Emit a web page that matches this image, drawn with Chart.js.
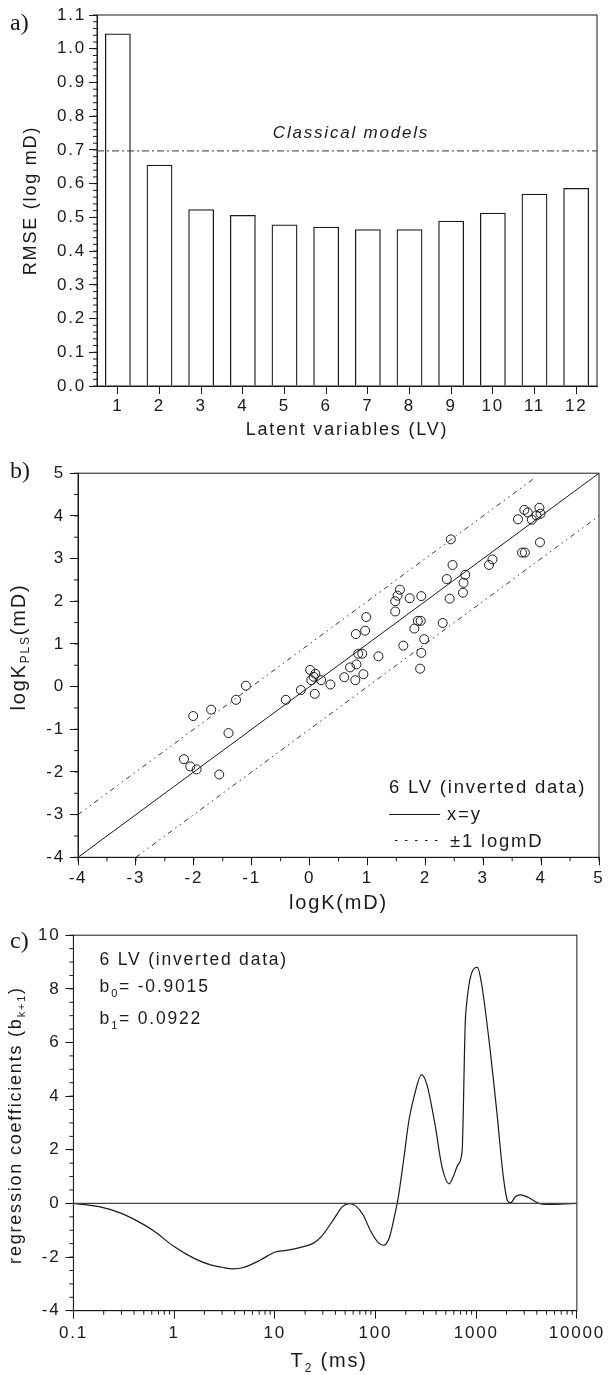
<!DOCTYPE html>
<html>
<head>
<meta charset="utf-8">
<title>PLS permeability model</title>
<script src="https://cdn.jsdelivr.net/npm/chart.js@4.4.0/dist/chart.umd.min.js"></script>
<style>
  body { margin: 0; background: #fff; }
  canvas { position: absolute; left: 0; }
</style>
</head>
<body>
<canvas id="chartA" width="609" height="460" style="top:0"></canvas>
<canvas id="chartB" width="609" height="462" style="top:458px"></canvas>
<canvas id="chartC" width="609" height="455" style="top:920px"></canvas>
<script>
// a) RMSE against number of latent variables
const lvLabels = ['1', '2', '3', '4', '5', '6', '7', '8', '9', '10', '11', '12'];
const rmseValues = [1.045, 0.656, 0.524, 0.507, 0.479, 0.472, 0.465, 0.465, 0.490, 0.514, 0.570, 0.587];
const classicalRmse = 0.697;

// b) measured vs predicted logK (6 LV)
const measuredLogK = [-2.17, -2.06, -1.95, -2.01, -1.70, -1.56, -1.40, -1.27, -1.10, -0.41,
  -0.15, 0.01, 0.03, 0.10, 0.07, 0.09, 0.20, 0.36, 0.60, 0.70,
  0.79, 0.81, 0.80, 0.84, 0.91, 0.93, 0.96, 0.98, 1.19, 1.48,
  1.48, 1.52, 1.56, 1.73, 1.62, 1.81, 1.87, 1.92, 1.93, 1.93,
  1.91, 1.98, 2.30, 2.37, 2.42, 2.47, 2.44, 2.65, 2.66, 2.69,
  3.10, 3.16, 3.60, 3.71, 3.67, 3.72, 3.77, 3.84, 3.92, 3.97, 3.98, 3.99];
const predictedLogK = [-1.70, -1.87, -1.94, -0.69, -0.54, -2.06, -1.09, -0.31, 0.02, -0.31,
  -0.08, 0.39, 0.15, 0.30, 0.23, -0.17, 0.15, 0.05, 0.22, 0.45,
  0.15, 0.52, 1.23, 0.77, 0.77, 0.29, 1.31, 1.63, 0.71, 1.76,
  2.00, 2.13, 2.27, 2.07, 0.96, 1.36, 1.54, 1.54, 2.12, 0.79,
  0.42, 1.11, 1.49, 2.52, 2.06, 2.85, 3.45, 2.20, 2.43, 2.62,
  2.85, 2.98, 3.92, 4.14, 3.14, 3.14, 4.08, 3.91, 4.01, 4.19, 3.38, 4.05];
const identityLine = [[-4, -4], [5, 5]];
const upperBound = [[-4, -3], [3.9, 4.9]];
const lowerBound = [[-3, -4], [5, 4]];

// c) regression coefficients over the T2 distribution
const t2Values = [0.1, 0.18, 0.30, 0.51, 0.64, 1.0, 1.58, 2.3, 3.0, 3.8,
  4.9, 7.2, 10.1, 13, 18, 24, 29, 38, 47, 55,
  64, 76, 90, 106, 120, 138, 155, 168, 190, 215,
  241, 287, 326, 362, 394, 458, 540, 600, 660, 725, 785,
  1030, 1130, 1320, 1600, 1860, 2050, 2200, 2450, 2750,
  3300, 4200, 5000, 7000, 10000];
const coefValues = [0, -0.12, -0.37, -0.81, -1.05, -1.61, -2.05, -2.29, -2.38, -2.44,
  -2.39, -2.11, -1.81, -1.75, -1.64, -1.49, -1.24, -0.62, -0.12, -0.01,
  -0.10, -0.45, -1.05, -1.45, -1.56, -1.25, -0.45, 0.20, 1.60, 3.10,
  3.96, 4.80, 4.40, 3.60, 2.85, 1.36, 0.73, 1.05, 1.45, 1.95, 7.00,
  8.80, 8.20, 6.30, 3.45, 1.00, 0.10, 0.02, 0.25, 0.32,
  0.22, 0.0, -0.04, -0.03, 0];
const t2TickValues = [0.1, 1, 10, 100, 1000, 10000];

const SANS = '"Liberation Sans", Arial, sans-serif';
const SERIF = '"Liberation Serif", "Times New Roman", serif';
const INK = '#1a1a1a';
const SPACING = '1.8px';
Chart.defaults.font.family = SANS;
Chart.defaults.color = INK;

// loose letter spacing for every label, set before measuring and drawing
Chart.register({
  id: 'spacing',
  beforeUpdate(chart) { chart.ctx.letterSpacing = SPACING; },
  beforeDraw(chart) { chart.ctx.letterSpacing = SPACING; }
});

// box round the plot area plus the short minor ticks
const frame = {
  id: 'frame',
  afterDraw(chart, args, opts) {
    const ctx = chart.ctx, a = chart.chartArea;
    const xs = chart.scales.x, ys = chart.scales.y;
    ctx.save();
    ctx.strokeStyle = INK;
    ctx.lineWidth = 1;
    ctx.strokeRect(a.left, a.top, a.right - a.left, a.bottom - a.top);
    ctx.beginPath();
    if (opts.minorY) {
      const n = Math.round((ys.max - ys.min) / opts.minorY);
      for (let i = 0; i <= n; i++) {
        const p = ys.getPixelForValue(ys.min + i * opts.minorY);
        ctx.moveTo(a.left - 4, p); ctx.lineTo(a.left, p);
      }
    }
    if (opts.minorX) {
      const n = Math.round((xs.max - xs.min) / opts.minorX);
      for (let i = 0; i <= n; i++) {
        const p = xs.getPixelForValue(xs.min + i * opts.minorX);
        ctx.moveTo(p, a.bottom); ctx.lineTo(p, a.bottom + 4);
      }
    }
    if (opts.logMinorX) {
      for (let d = xs.min; d < xs.max; d *= 10) {
        for (let k = 2; k <= 9; k++) {
          const p = xs.getPixelForValue(d * k);
          ctx.moveTo(p, a.bottom); ctx.lineTo(p, a.bottom + 4);
        }
      }
    }
    ctx.stroke();
    ctx.restore();
  }
};

// text with subscripts: parts are [text, size, dy]
function richText(ctx, parts, x, y, align) {
  let w = 0;
  parts.forEach(p => { ctx.font = p[1] + 'px ' + SANS; w += ctx.measureText(p[0]).width; });
  let cx = align === 'center' ? x - w / 2 : x;
  parts.forEach(p => {
    ctx.font = p[1] + 'px ' + SANS;
    ctx.fillText(p[0], cx, y + (p[2] || 0));
    cx += ctx.measureText(p[0]).width;
  });
}

function panelLetter(ctx, txt, y) {
  ctx.save();
  ctx.letterSpacing = '0px';
  ctx.font = '24px ' + SERIF;
  ctx.textAlign = 'left';
  ctx.fillText(txt, 10, y);
  ctx.restore();
}

function axisStyle(size, pad) {
  return {
    grid: { drawOnChartArea: false, tickLength: 8, color: INK, lineWidth: 1 },
    border: { color: INK, width: 1 },
    ticks: { font: { size: size }, padding: pad, color: INK }
  };
}

// ---------- a) ----------
const textA = {
  id: 'textA',
  afterDraw(chart) {
    const ctx = chart.ctx, a = chart.chartArea, ys = chart.scales.y;
    ctx.save();
    ctx.fillStyle = INK;
    panelLetter(ctx, 'a)', 30);
    // classical models reference line
    const py = ys.getPixelForValue(classicalRmse);
    ctx.strokeStyle = '#333';
    ctx.lineWidth = 1;
    ctx.setLineDash([7, 3, 2, 3]);
    ctx.beginPath(); ctx.moveTo(a.left, py); ctx.lineTo(a.right, py); ctx.stroke();
    ctx.setLineDash([]);
    ctx.font = 'italic 17px ' + SANS;
    ctx.textAlign = 'center';
    ctx.fillText('Classical models', 351, 138);
    ctx.restore();
  }
};

const ax = axisStyle(17, 2);
ax.grid.offset = false;
ax.ticks.autoSkip = false;
ax.title = { display: true, text: 'Latent variables (LV)', font: { size: 18 }, color: INK, padding: { top: 0, bottom: 19 } };
ax.afterFit = s => { s.height = 74; };
const ay = axisStyle(17, 3);
ay.min = 0; ay.max = 1.1;
ay.ticks.stepSize = 0.1;
ay.ticks.callback = v => v.toFixed(1);
ay.title = { display: true, text: 'RMSE (log mD)', font: { size: 18 }, color: INK, padding: { top: 20, bottom: 0 } };
ay.afterFit = s => { s.width = 97; };

new Chart(document.getElementById('chartA'), {
  type: 'bar',
  data: {
    labels: lvLabels,
    datasets: [{
      data: rmseValues,
      backgroundColor: 'rgba(255,255,255,0)',
      borderColor: INK,
      borderWidth: 1.3,
      barPercentage: 0.62,
      categoryPercentage: 1
    }]
  },
  options: {
    responsive: false,
    animation: false,
    layout: { padding: { top: 15, right: 12, left: 0, bottom: 0 } },
    plugins: { legend: { display: false }, tooltip: { enabled: false }, frame: { minorY: 0.02 } },
    scales: { x: ax, y: ay }
  },
  plugins: [frame, textA]
});

// ---------- b) ----------
const textB = {
  id: 'textB',
  afterDraw(chart) {
    const ctx = chart.ctx;
    ctx.save();
    ctx.fillStyle = INK;
    ctx.strokeStyle = INK;
    panelLetter(ctx, 'b)', 20);
    // y title with subscript
    ctx.save();
    ctx.translate(19.5, 189);
    ctx.rotate(-Math.PI / 2);
    ctx.textBaseline = 'middle';
    richText(ctx, [['logK', 20, 0], ['PLS', 12, 6], ['(mD)', 20, 0]], 0, 0, 'center');
    ctx.restore();
    // legend
    ctx.textAlign = 'left';
    ctx.font = '18.5px ' + SANS;
    ctx.fillText('6 LV (inverted data)', 389, 334.5);
    ctx.lineWidth = 1;
    ctx.beginPath(); ctx.moveTo(389, 356.5); ctx.lineTo(440, 356.5); ctx.stroke();
    ctx.fillText('x=y', 447, 362);
    ctx.setLineDash([2.5, 7.5]);
    ctx.beginPath(); ctx.moveTo(395, 382.5); ctx.lineTo(440, 382.5); ctx.stroke();
    ctx.setLineDash([]);
    ctx.fillText('\u00b11 logmD', 450, 389);
    ctx.restore();
  }
};

const toPoints = pairs => pairs.map(p => ({ x: p[0], y: p[1] }));
const boundDash = [5, 4, 1.5, 4, 1.5, 4];

const bx = axisStyle(17, 3);
bx.type = 'linear'; bx.min = -4; bx.max = 5;
bx.ticks.stepSize = 1;
bx.title = { display: true, text: 'logK(mD)', font: { size: 20 }, color: INK, padding: { top: 0, bottom: 5 } };
bx.afterFit = s => { s.height = 62.7; };
const by = axisStyle(17, 5);
by.min = -4; by.max = 5;
by.ticks.stepSize = 1;
by.afterFit = s => { s.width = 78; };

new Chart(document.getElementById('chartB'), {
  type: 'scatter',
  data: {
    datasets: [
      {
        data: measuredLogK.map((v, i) => ({ x: v, y: predictedLogK[i] })),
        pointStyle: 'circle',
        pointRadius: 4.5,
        pointBorderWidth: 1,
        pointBorderColor: INK,
        pointBackgroundColor: 'rgba(255,255,255,0)'
      },
      { data: toPoints(identityLine), showLine: true, pointRadius: 0, borderColor: INK, borderWidth: 1 },
      { data: toPoints(upperBound), showLine: true, pointRadius: 0, borderColor: '#333', borderWidth: 1, borderDash: boundDash },
      { data: toPoints(lowerBound), showLine: true, pointRadius: 0, borderColor: '#333', borderWidth: 1, borderDash: boundDash }
    ]
  },
  options: {
    responsive: false,
    animation: false,
    layout: { padding: { top: 8, right: 10, left: 0, bottom: 0 } },
    plugins: { legend: { display: false }, tooltip: { enabled: false }, frame: { minorX: 0.5, minorY: 0.5 } },
    scales: { x: bx, y: by }
  },
  plugins: [frame, textB]
});

// ---------- c) ----------
const textC = {
  id: 'textC',
  afterDraw(chart) {
    const ctx = chart.ctx, a = chart.chartArea, ys = chart.scales.y;
    ctx.save();
    ctx.fillStyle = INK;
    panelLetter(ctx, 'c)', 28);
    // zero line
    const py = ys.getPixelForValue(0);
    ctx.strokeStyle = '#444';
    ctx.lineWidth = 1.2;
    ctx.beginPath(); ctx.moveTo(a.left, py); ctx.lineTo(a.right, py); ctx.stroke();
    // annotations
    ctx.textAlign = 'left';
    richText(ctx, [['6 LV (inverted data)', 17.5, 0]], 99.6, 45, 'left');
    richText(ctx, [['b', 17.5, 0], ['0', 11, 5], ['= -0.9015', 17.5, 0]], 99.6, 72, 'left');
    richText(ctx, [['b', 17.5, 0], ['1', 11, 5], ['= 0.0922', 17.5, 0]], 99.6, 104, 'left');
    // x title
    richText(ctx, [['T', 20, 0], ['2', 12, 5], [' (ms)', 20, 0]], (a.left + a.right) / 2 + 4, 447, 'center');
    // y title
    ctx.save();
    ctx.translate(15.6, 205);
    ctx.rotate(-Math.PI / 2);
    ctx.textBaseline = 'middle';
    richText(ctx, [['regression coefficients (b', 18, 0], ['k+1', 11, 6], [')', 18, 0]], 0, 0, 'center');
    ctx.restore();
    ctx.restore();
  }
};

const cx = axisStyle(17, 4);
cx.type = 'logarithmic'; cx.min = 0.1; cx.max = 10000;
cx.afterBuildTicks = s => { s.ticks = t2TickValues.map(v => ({ value: v })); };
cx.ticks.callback = v => String(v);
cx.afterFit = s => { s.height = 64.3; };
const cy = axisStyle(17, 5);
cy.min = -4; cy.max = 10;
cy.ticks.stepSize = 2;
cy.afterFit = s => { s.width = 73.4; };

new Chart(document.getElementById('chartC'), {
  type: 'scatter',
  data: {
    datasets: [{
      data: t2Values.map((v, i) => ({ x: v, y: coefValues[i] })),
      showLine: true,
      pointRadius: 0,
      borderColor: INK,
      borderWidth: 1.2,
      cubicInterpolationMode: 'monotone'
    }]
  },
  options: {
    responsive: false,
    animation: false,
    layout: { padding: { top: 14, right: 28, left: 0, bottom: 0 } },
    plugins: { legend: { display: false }, tooltip: { enabled: false }, frame: { minorY: 0.5, logMinorX: true } },
    scales: { x: cx, y: cy }
  },
  plugins: [frame, textC]
});
</script>
</body>
</html>
